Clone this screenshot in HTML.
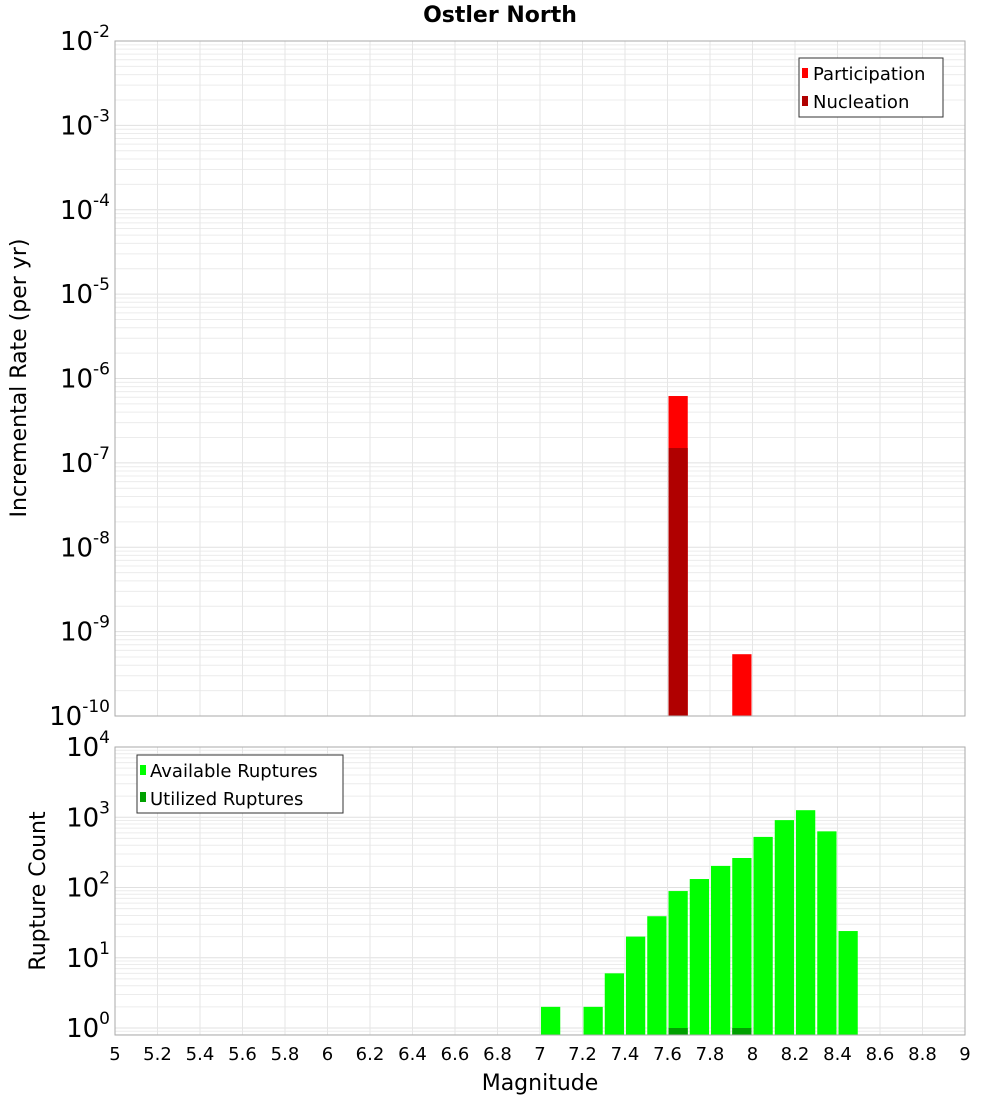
<!DOCTYPE html>
<html><head><meta charset="utf-8"><style>
body{margin:0;background:#fff;}
svg{display:block;font-family:"DejaVu Sans","Liberation Sans",sans-serif;}
</style></head><body>
<svg id="chart" width="1000" height="1100" xmlns="http://www.w3.org/2000/svg">
<rect width="1000" height="1100" fill="#fff"/>
<text x="500" y="22" text-anchor="middle" font-weight="bold" font-size="22">Ostler North</text>
<g id="topPanel"></g><g id="botPanel"></g>
<text transform="translate(26,378) rotate(-90)" text-anchor="middle" font-size="22">Incremental Rate (per yr)</text>
<text transform="translate(45,891) rotate(-90)" text-anchor="middle" font-size="22">Rupture Count</text>
<text x="540" y="1090" text-anchor="middle" font-size="22">Magnitude</text>
</svg>
<script>
const binStarts=[7.0,7.2,7.3,7.4,7.5,7.6,7.7,7.8,7.9,8.0,8.1,8.2,8.3,8.4];
const availCounts=[2,2,6,20,39,89,132,203,263,525,910,1260,630,24];
const utilBins=[7.6,7.9];
const utilCounts=[1,1];
const partBins=[7.6,7.9];
const partRates=[6.2e-7,5.4e-10];
const nuclBins=[7.6];
const nuclRates=[1.5e-7];
const xTicks=[5,5.2,5.4,5.6,5.8,6,6.2,6.4,6.6,6.8,7,7.2,7.4,7.6,7.8,8,8.2,8.4,8.6,8.8,9];
const topExps=[-2,-3,-4,-5,-6,-7,-8,-9,-10];
const botExps=[4,3,2,1,0];

const NS="http://www.w3.org/2000/svg";
const X0=115,X1=965;
const xs=m=>X0+(m-5)/4*(X1-X0);
const yTop=v=>41+(-2-Math.log10(v))*84.375;
const yBot=v=>1028-Math.log10(v)*70.25;
function mk(p,tag,a){const e=document.createElementNS(NS,tag);for(const k in a)e.setAttribute(k,a[k]);p.appendChild(e);return e;}
const topG=document.getElementById('topPanel'),botG=document.getElementById('botPanel');

function grid(g,yT,yB,yf,eMin,eMax){
  for(let e=eMin;e<eMax;e++)for(let k=1;k<10;k++){const y=yf(k*Math.pow(10,e));if(y<yT-0.5||y>yB+0.5)continue;
    const l=mk(g,'line',{x1:X0,x2:X1,y1:y,y2:y,stroke:k==1?'#e0e0e0':'#ececec','stroke-width':1});
    
    }
  xTicks.forEach(t=>{const l=mk(g,'line',{x1:xs(t),x2:xs(t),y1:yT,y2:yB,stroke:'#e6e6e6'});
    
    });
}
function bar(g,m,v,yf,yB,color,name){const x=xs(m)+1,w=xs(m+0.1)-xs(m)-2,y=yf(v);
  const r=mk(g,'rect',{x:x,y:y,width:w,height:yB-y,fill:color});
  
  }
function ylab(g,e,y,name){const t=mk(g,'text',{x:110,y:y+9,'text-anchor':'end','font-size':26});
  
  
  t.textContent='10';const s=mk(t,'tspan',{dy:-13,'font-size':17});s.textContent=e;}

grid(topG,41,716,yTop,-10,-2);
partBins.forEach((m,i)=>bar(topG,m,partRates[i],yTop,716,'#ff0000','participation-bar'));
nuclBins.forEach((m,i)=>bar(topG,m,nuclRates[i],yTop,716,'#b00000','nucleation-bar'));
let fr=mk(topG,'rect',{x:X0,y:41,width:X1-X0,height:675,fill:'none',stroke:'#aaa'});


topExps.forEach(e=>ylab(topG,e,yTop(Math.pow(10,e)),'top-y-tick-label'));
let lg=mk(topG,'g',{});


mk(lg,'rect',{x:799,y:58,width:144,height:59,fill:'#fff',stroke:'#333'});
mk(lg,'rect',{x:802,y:68,width:6,height:10,fill:'#ff0000'});
let t=mk(lg,'text',{x:813,y:80,'font-size':18});t.textContent='Participation';
mk(lg,'rect',{x:802,y:96,width:6,height:10,fill:'#b00000'});
t=mk(lg,'text',{x:813,y:108,'font-size':18});t.textContent='Nucleation';

grid(botG,747,1035,yBot,-1,4);
binStarts.forEach((m,i)=>bar(botG,m,availCounts[i],yBot,1035,'#00ff00','available-bar'));
utilBins.forEach((m,i)=>bar(botG,m,utilCounts[i],yBot,1035,'#00a000','utilized-bar'));
fr=mk(botG,'rect',{x:X0,y:747,width:X1-X0,height:288,fill:'none',stroke:'#aaa'});


botExps.forEach(e=>ylab(botG,e,yBot(Math.pow(10,e)),'bottom-y-tick-label'));
xTicks.forEach(m=>{const tx=mk(botG,'text',{x:xs(m),y:1060,'text-anchor':'middle','font-size':18});
  
  
  tx.textContent=String(m);});
lg=mk(botG,'g',{});


mk(lg,'rect',{x:137,y:755,width:206,height:58,fill:'#fff',stroke:'#333'});
mk(lg,'rect',{x:140,y:765,width:6,height:10,fill:'#00ff00'});
t=mk(lg,'text',{x:150,y:777,'font-size':18});t.textContent='Available Ruptures';
mk(lg,'rect',{x:140,y:792,width:6,height:10,fill:'#00a000'});
t=mk(lg,'text',{x:150,y:805,'font-size':18});t.textContent='Utilized Ruptures';
</script>
</body></html>
